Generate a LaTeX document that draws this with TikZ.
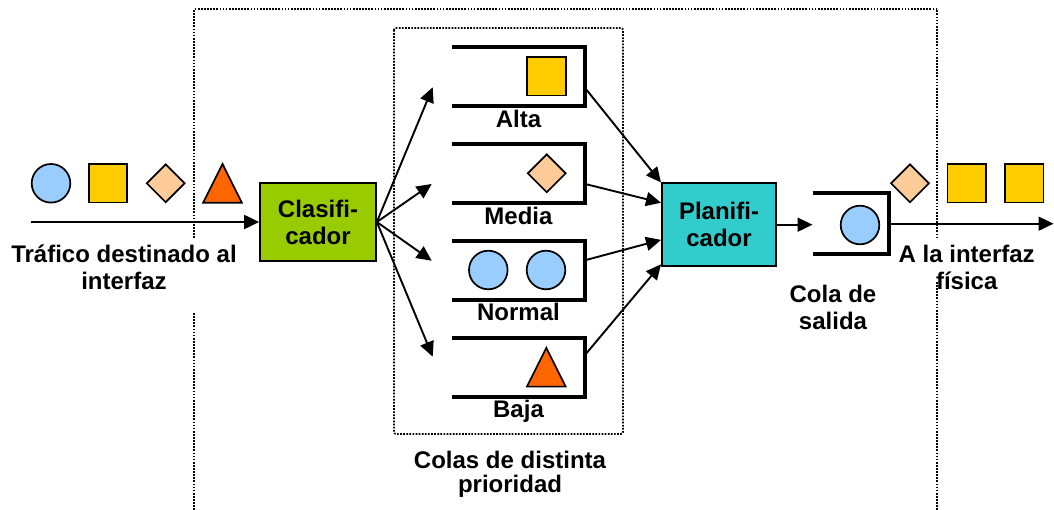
\documentclass[tikz,border=0pt]{standalone}
\usepackage{fontspec}
\setmainfont{Liberation Sans}
\usetikzlibrary{shapes.geometric,arrows.meta,calc}
\definecolor{cblue}{HTML}{99CCFF}
\definecolor{cyellow}{HTML}{FFCC00}
\definecolor{cpeach}{HTML}{FFCC99}
\definecolor{corange}{HTML}{FF6600}
\definecolor{cgreen}{HTML}{99CC00}
\definecolor{cteal}{HTML}{33CCCC}
\begin{document}
\begin{tikzpicture}[x=1pt,y=-1pt,
 lbl/.style={font=\bfseries\fontsize{24}{27}\selectfont,align=center,anchor=base,inner sep=0},
 circ/.style={circle,draw,fill=cblue,minimum size=38.6pt,inner sep=0,line width=1.7pt},
 sq/.style={rectangle,draw,fill=cyellow,minimum size=38.6pt,inner sep=0,line width=1.7pt},
 dia/.style={diamond,draw,fill=cpeach,minimum size=38.6pt,inner sep=0,line width=1.7pt},
 tri/.pic={\draw[fill=corange,line width=1.7pt,line join=miter] (0,-19.4)--(19.35,19.4)--(-19.35,19.4)--cycle;},
 box/.style={rectangle,draw,line width=1.7pt,inner sep=0,font=\bfseries\fontsize{24}{27}\selectfont,align=center},
 queue/.style={rectangle,minimum width=133pt,minimum height=59pt,inner sep=0},
 qline/.style={line width=4pt},
 arr/.style={line width=1.9pt,-{Triangle[length=15pt,width=14pt]}},
 frame/.style={line width=1.8pt,dash pattern=on 1.7pt off 1.4pt}
]
\useasboundingbox (0,0) rectangle (1054,510);

% frames
\draw[frame] (194.3,510) -- (194.3,312);
\draw[frame] (194.3,238) -- (194.3,9) -- (937.3,9) -- (937.3,238);
\draw[frame] (937.3,282) -- (937.3,510);
\draw[frame,rounded corners=2pt] (394,28) rectangle (623,434);

% boxes
\node[box,fill=cgreen,minimum width=116pt,minimum height=77.4pt] (cls) at (318,222) {Clasifi-\\cador};
\node[box,fill=cteal,minimum width=114.3pt,minimum height=82.7pt] (plan) at (719,224.7) {Planifi-\\cador};

% queues
\node[queue] (qa) at (518.5,76.3) {};
\node[queue] (qm) at (518.5,173.3) {};
\node[queue] (qn) at (518.5,270.3) {};
\node[queue] (qb) at (518.5,367.2) {};
\node[queue,minimum width=76pt,minimum height=61pt] (qo) at (850.7,223.7) {};
\foreach \q in {qa,qm,qn,qb,qo}
  \draw[qline] (\q.north west) -- (\q.north east) -- (\q.south east) -- (\q.south west);

% queue contents
\node[sq] (ia) at (546.5,76.3) {};
\node[dia] (im) at (546.7,173.3) {};
\node[circ] (in1) at (488.3,270) {};
\node[circ] (in2) at (546,270) {};
\pic at (546.3,367.2) {tri};
\node[circ] (io) at (860,225) {};

% incoming traffic
\node[circ] (l1) at (51,183.3) {};
\node[sq] (l2) at (108,183.3) {};
\node[dia] (l3) at (165.7,183.3) {};
\pic at (222.5,183.3) {tri};

% outgoing traffic
\node[dia] (r1) at (910,183.3) {};
\node[sq] (r2) at (966.7,183.3) {};
\node[sq] (r3) at (1024.2,183.3) {};

% labels
\node[lbl] (la) at (518.5,127.3) {Alta};
\node[lbl] (lm) at (518.5,224.3) {Media};
\node[lbl] (ln) at (518.5,321) {Normal};
\node[lbl] (lb) at (518.5,417.7) {Baja};
\node[lbl] (tin) at (124,290) {Tráfico destinado al\\interfaz};
\node[lbl] (tout) at (966.7,289.3) {A la interfaz\\física};
\node[lbl] (tcola) at (833,330) {Cola de\\salida};
\node[lbl] (tcolas) at (510,492) {Colas de distinta\\[-3pt]prioridad};

% connectors
\coordinate (src) at (31,222);
\draw[arr] (src) -- (cls.west);
\coordinate (ta) at (432.7,87.3);
\coordinate (tm) at (431.7,184);
\coordinate (tn) at (431.7,260.7);
\coordinate (tb) at (432.7,356.7);
\foreach \t in {ta,tm,tn,tb} \draw[arr] (cls.east) -- (\t);
\draw[arr] ($(qa.north east)!0.7!(qa.south east)$) -- (plan.north west);
\draw[arr] ($(qm.north east)!0.68!(qm.south east)$) -- ($(plan.north west)!0.24!(plan.south west)$);
\draw[arr] ($(qn.north east)!0.33!(qn.south east)$) -- ($(plan.north west)!0.68!(plan.south west)$);
\draw[arr] ($(qb.north east)!0.29!(qb.south east)$) -- ($(plan.north west)!0.97!(plan.south west)$);
\draw[arr] (plan.east) -- (plan.east -| qo.west);
\coordinate (dst) at (1053.5,222);
\draw[arr] (qo.east) -- (qo.east -| dst);
\end{tikzpicture}
\end{document}
